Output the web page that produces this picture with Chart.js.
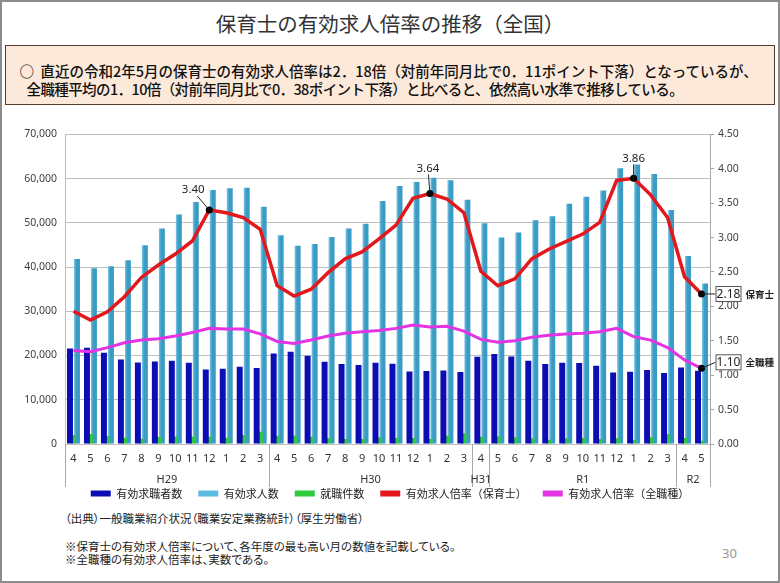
<!DOCTYPE html>
<html lang="ja">
<head>
<meta charset="utf-8">
<title>保育士の有効求人倍率の推移（全国）</title>
<script src="https://cdn.jsdelivr.net/npm/chart.js@4.4.1/dist/chart.umd.min.js"></script>
<style>
  body { margin: 0; background: #fff; font-family: "Noto Sans CJK JP", sans-serif; color: #222; }
  #slide { position: relative; width: 780px; height: 583px; overflow: hidden; background: #fff; }
  #frame { position: absolute; left: 0; top: 0; right: 0; bottom: 0; border: 2px solid #8c8c8c; pointer-events: none; }
  #title { position: absolute; left: 0; width: 780px; top: 8px; text-align: center; font-size: 20.5px; color: #333; }
  #summary { position: absolute; left: 5px; top: 45px; width: 770px; height: 60px; box-sizing: border-box;
             background: #fde9d9; border: 1.5px solid #5a3b28; font-size: 14.5px; font-weight: 500; color: #111;
             line-height: 18px; }
  #summary div { position: absolute; white-space: nowrap; }
  #chart-box { position: absolute; left: 0; top: 120px; width: 780px; height: 390px; }
  .foot { position: absolute; left: 65px; font-size: 11.5px; color: #222; white-space: nowrap; font-feature-settings: "palt"; }
  #page { position: absolute; left: 722px; top: 544px; font-size: 13px; color: #999; font-family: "Noto Sans", sans-serif; }
</style>
</head>
<body>
<div id="slide">
  <div id="title">保育士の有効求人倍率の推移（全国）</div>
  <div id="summary">
    <div style="left:13.5px;top:16px">○&nbsp;&nbsp;直近の令和2年5月の保育士の有効求人倍率は2．18倍（対前年同月比で0．11ポイント下落）となっているが、</div>
    <div style="left:20.5px;top:34px;letter-spacing:-0.6px">全職種平均の1．10倍（対前年同月比で0．38ポイント下落）と比べると、依然高い水準で推移している。</div>
  </div>
  <div id="chart-box"><canvas id="chart"></canvas></div>
  <div class="foot" style="top:510px">（出典）一般職業紹介状況（職業安定業務統計）（厚生労働省）</div>
  <div class="foot" style="top:538px">※保育士の有効求人倍率について、各年度の最も高い月の数値を記載している。</div>
  <div class="foot" style="top:551px">※全職種の有効求人倍率は、実数である。</div>
  <div id="page">30</div>
  <div id="frame"></div>
</div>

<script>
// ---- data (H29.4 〜 R2.5) ----
const months = ['4','5','6','7','8','9','10','11','12','1','2','3',
                '4','5','6','7','8','9','10','11','12','1','2','3',
                '4',
                '5','6','7','8','9','10','11','12','1','2','3',
                '4','5'];
const groupNames = ['H29', 'H30', 'H31', 'R1', 'R2'];
const groupSizes = [12, 12, 1, 11, 2];

const seekers = [21590, 21750, 20620, 19110, 18430, 18660, 18810, 18360, 16850, 17000, 17460, 17160,
                 20460, 20840, 19940, 18580, 18060, 17840, 18360, 18130, 16400, 16480, 16630, 16250,
                 19710,
                 20320, 19790, 18810, 18060, 18360, 18290, 17680, 16170, 16330, 16710, 16030,
                 17300, 16550];
const openings = [41800, 39700, 40200, 41550, 44900, 48700, 51850, 54700, 57400, 57800, 57900, 53600,
                  47200, 44800, 45200, 46800, 48700, 49800, 54900, 58300, 59200, 60200, 59600, 55200,
                  49900,
                  46700, 47800, 50600, 51500, 54300, 55900, 57300, 62300, 63200, 61000, 52900,
                  42500, 36300];
const placements = [2030, 2250, 1800, 1430, 1200, 1580, 1700, 1700, 1700, 1430, 2030, 2780,
                    1880, 1880, 1660, 1350, 1130, 1130, 1500, 1350, 1350, 1130, 1880, 2410,
                    1660,
                    1730, 1500, 1280, 980, 1280, 1350, 1130, 1280, 900, 1500, 2260,
                    1350, 750];
const ratioHoiku = [1.93, 1.80, 1.92, 2.14, 2.42, 2.60, 2.76, 2.95, 3.40, 3.36, 3.29, 3.12,
                    2.30, 2.15, 2.25, 2.49, 2.69, 2.79, 2.98, 3.18, 3.57, 3.64, 3.56, 3.36,
                    2.51,
                    2.30, 2.40, 2.69, 2.83, 2.94, 3.05, 3.22, 3.83, 3.86, 3.62, 3.29,
                    2.43, 2.18];
const ratioAll = [1.36, 1.34, 1.40, 1.47, 1.51, 1.53, 1.57, 1.62, 1.68, 1.67, 1.67, 1.60,
                  1.49, 1.46, 1.51, 1.57, 1.61, 1.63, 1.65, 1.68, 1.73, 1.70, 1.71, 1.64,
                  1.52,
                  1.48, 1.50, 1.55, 1.58, 1.60, 1.61, 1.63, 1.68, 1.56, 1.51, 1.40,
                  1.22, 1.10];

const peakIdx = [8, 21, 33];          // 各年度の最高値
const lastIdx = months.length - 1;    // R2.5

const NUM_FONT = '"Noto Sans", sans-serif';
const JP_FONT = '"Noto Sans CJK JP", sans-serif';

// year groups under the month labels
const groupPlugin = {
  id: 'groups',
  afterDraw(chart) {
    const { ctx, chartArea } = chart;
    const x = chart.scales.x;
    const half = (x.getPixelForValue(1) - x.getPixelForValue(0)) / 2;
    const y0 = chartArea.bottom, y1 = chartArea.bottom + 43;
    ctx.save();
    ctx.strokeStyle = '#a6a6a6';
    ctx.lineWidth = 1;
    ctx.fillStyle = '#333';
    ctx.font = '11px ' + NUM_FONT;
    ctx.textAlign = 'center';
    ctx.textBaseline = 'middle';
    let start = 0;
    groupSizes.forEach((n, i) => {
      const l = x.getPixelForValue(start) - half;
      const r = x.getPixelForValue(start + n - 1) + half;
      ctx.beginPath(); ctx.moveTo(Math.round(l) + 0.5, y0); ctx.lineTo(Math.round(l) + 0.5, y1); ctx.stroke();
      if (i === groupSizes.length - 1) {
        ctx.beginPath(); ctx.moveTo(Math.round(r) + 0.5, y0); ctx.lineTo(Math.round(r) + 0.5, y1); ctx.stroke();
      }
      ctx.fillText(groupNames[i], (l + r) / 2, y0 + 36);
      start += n;
    });
    ctx.restore();
  }
};

// value labels on the ratio lines
const notesPlugin = {
  id: 'notes',
  afterDatasetsDraw(chart) {
    const ctx = chart.ctx;
    const red = chart.getDatasetMeta(3).data;
    const mag = chart.getDatasetMeta(4).data;
    ctx.save();
    ctx.strokeStyle = '#222';
    ctx.fillStyle = '#222';
    ctx.lineWidth = 1;
    ctx.textAlign = 'center';
    ctx.textBaseline = 'middle';
    ctx.font = '11.5px ' + NUM_FONT;
    const offs = [[-16, -20], [-2, -25], [0, -20]];
    peakIdx.forEach((idx, k) => {
      const p = red[idx];
      const tx = p.x + offs[k][0], ty = p.y + offs[k][1];
      ctx.beginPath();
      ctx.moveTo(tx - offs[k][0] * 0.25, ty + 6);
      ctx.lineTo(p.x, p.y);
      ctx.stroke();
      ctx.fillText(ratioHoiku[idx].toFixed(2), tx, ty);
    });

    const boxes = [
      { p: red[lastIdx], v: ratioHoiku[lastIdx], dy: 0, name: '保育士' },
      { p: mag[lastIdx], v: ratioAll[lastIdx], dy: -6, name: '全職種' }
    ];
    boxes.forEach(b => {
      const bx = b.p.x + 14, by = b.p.y + b.dy;
      ctx.beginPath();
      ctx.moveTo(b.p.x, b.p.y);
      ctx.lineTo(bx, by);
      ctx.stroke();
      ctx.fillStyle = '#fff';
      ctx.fillRect(bx, by - 8, 25, 16);
      ctx.strokeStyle = '#555';
      ctx.strokeRect(bx + 0.5, by - 7.5, 25, 15);
      ctx.fillStyle = '#222';
      ctx.font = '12px ' + NUM_FONT;
      ctx.fillText(b.v.toFixed(2), bx + 13, by + 0.5);
      ctx.font = 'bold 9.5px ' + JP_FONT;
      ctx.textAlign = 'left';
      ctx.fillText(b.name, bx + 30, by + 0.5);
      ctx.textAlign = 'center';
      ctx.strokeStyle = '#222';
    });
    ctx.restore();
  }
};

const dotRadius = list => c => list.includes(c.dataIndex) ? 3.5 : 0;

// cylinder-like shading for the 有効求人数 bars
const cylinder = c => {
  const chart = c.chart;
  if (c.type !== 'data' || !chart.chartArea) return '#4aafd2';
  const cx = chart.scales.x.getPixelForValue(c.dataIndex);
  const g = chart.ctx.createLinearGradient(cx - 3, 0, cx + 3, 0);
  g.addColorStop(0, '#3598c0');
  g.addColorStop(0.45, '#8fd4ec');
  g.addColorStop(1, '#3a9cc4');
  return g;
};

new Chart(document.getElementById('chart'), {
  type: 'bar',
  data: {
    labels: months,
    datasets: [
      { label: '有効求職者数', data: seekers, yAxisID: 'y', order: 3,
        backgroundColor: '#0d0db4', borderColor: '#0d0db4', borderWidth: 0,
        barPercentage: 1.7, categoryPercentage: 0.62 },
      { label: '有効求人数', data: openings, yAxisID: 'y', order: 5,
        backgroundColor: cylinder, borderColor: '#3a9cc0', borderWidth: 0,
        barPercentage: 1.7, categoryPercentage: 0.62 },
      { label: '就職件数', data: placements, yAxisID: 'y', order: 4,
        backgroundColor: '#2ecc3a', borderColor: '#2ecc3a', borderWidth: 0,
        barPercentage: 1.5, categoryPercentage: 0.62 },
      { type: 'line', label: '有効求人倍率（保育士）', data: ratioHoiku, yAxisID: 'y1', order: 1,
        borderColor: '#e3181c', backgroundColor: '#e3181c', borderWidth: 3.5, tension: 0,
        pointRadius: dotRadius([...peakIdx, lastIdx]), pointBackgroundColor: '#000', pointBorderWidth: 0 },
      { type: 'line', label: '有効求人倍率（全職種）', data: ratioAll, yAxisID: 'y1', order: 2,
        borderColor: '#e433e4', backgroundColor: '#e433e4', borderWidth: 3, tension: 0,
        pointRadius: dotRadius([lastIdx]), pointBackgroundColor: '#000', pointBorderWidth: 0 }
    ]
  },
  options: {
    responsive: true,
    maintainAspectRatio: false,
    animation: false,
    layout: { padding: { top: 13, bottom: 1, left: 0, right: 0 } },
    plugins: {
      tooltip: { enabled: false },
      legend: {
        position: 'bottom',
        labels: {
          font: { size: 11, family: JP_FONT },
          color: '#222',
          boxWidth: 20,
          boxHeight: 6,
          padding: 16,
          sort: (a, b) => a.datasetIndex - b.datasetIndex,
          generateLabels: chart => Chart.defaults.plugins.legend.labels.generateLabels(chart)
            .map(l => ({ ...l, lineWidth: 0, fillStyle: l.datasetIndex === 1 ? '#5bbbe0' : l.fillStyle }))
        }
      }
    },
    scales: {
      x: {
        grid: { display: false, drawTicks: false },
        border: { display: true, color: '#bfbfbf' },
        ticks: { color: '#333', font: { size: 11, family: NUM_FONT }, padding: 8, maxRotation: 0, autoSkip: false },
        afterFit: s => { s.height = 28; }
      },
      y: {
        position: 'left',
        min: 0, max: 70000,
        ticks: { stepSize: 10000, color: '#404040', font: { size: 10.5, family: NUM_FONT }, padding: 8,
                 callback: v => v.toLocaleString('en-US') },
        grid: { color: '#bfbfbf', drawTicks: false },
        border: { display: true, color: '#bfbfbf' },
        afterFit: s => { s.width = 65; }
      },
      y1: {
        position: 'right',
        min: 0, max: 4.5,
        ticks: { stepSize: 0.5, color: '#404040', font: { size: 10.5, family: NUM_FONT }, padding: 4,
                 callback: v => v.toFixed(2) },
        grid: { drawOnChartArea: false, drawTicks: true, tickLength: 4, color: '#a6a6a6' },
        border: { display: true, color: '#a6a6a6' },
        afterFit: s => { s.width = 70; }
      }
    }
  },
  plugins: [groupPlugin, notesPlugin]
});
</script>
</body>
</html>
